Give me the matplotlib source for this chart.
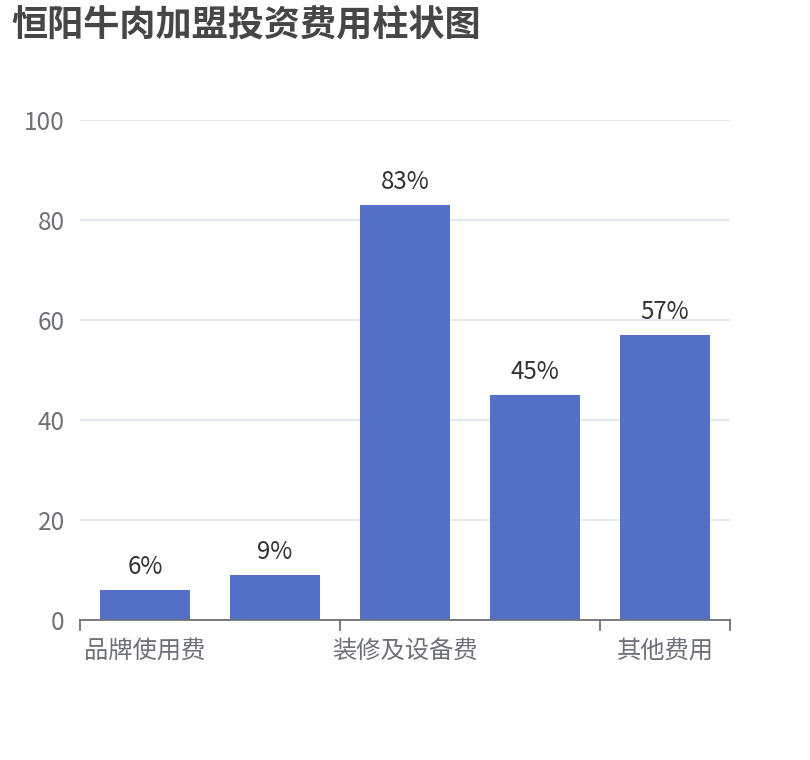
import matplotlib
matplotlib.use("Agg")
import matplotlib.pyplot as plt

plt.rcParams['font.family'] = ['Noto Sans CJK SC', 'DejaVu Sans']

categories = ["品牌使用费", "加盟费", "装修及设备费", "保证金", "其他费用"]
values = [6, 9, 83, 45, 57]
value_labels = ["6%", "9%", "83%", "45%", "57%"]
yticks = [0, 20, 40, 60, 80, 100]
title = "恒阳牛肉加盟投资费用柱状图"

W, H = 810, 760
fig = plt.figure(figsize=(W / 100, H / 100), dpi=100)
ax = fig.add_axes([80 / W, 140 / H, 650 / W, 500 / H])

x = list(range(len(categories)))
ax.bar(x, values, width=0.685, color="#5470c6", zorder=3)
for xi, v, lab in zip(x, values, value_labels):
    ax.annotate(lab, (xi, v), xytext=(0, 7), textcoords="offset points",
                ha="center", va="bottom", fontsize=17.3, color="#333333", zorder=4)

ax.set_xlim(-0.5, len(categories) - 0.5)
ax.set_ylim(0, 100)
ax.set_yticks(yticks)
ax.set_yticklabels([str(t) for t in yticks])
ax.yaxis.grid(True, color="#E0E6F1", linewidth=1.3, zorder=0)
ax.tick_params(axis="y", length=0, pad=11, labelsize=17.5, labelcolor="#6E7079")

# category axis: show every other label, ticks at boundaries of shown labels
ax.set_xticks(x)
ax.set_xticklabels([c if i % 2 == 0 else "" for i, c in enumerate(categories)])
ax.tick_params(axis="x", length=0, pad=12.5, labelsize=17.5, labelcolor="#6E7079")
bounds = [-0.5, 1.5, 3.5, 4.5]
for b in bounds:
    ax.plot([b, b], [0, -2], color="#6E7079", linewidth=1.3, clip_on=False, zorder=5)

for s in ["top", "right", "left"]:
    ax.spines[s].set_visible(False)
ax.spines["bottom"].set_color("#6E7079")
ax.spines["bottom"].set_linewidth(1.3)
ax.spines["bottom"].set_zorder(5)

fig.text(11 / W, 1 - 26 / H, title, fontsize=26, fontweight="bold",
         color="#464646", ha="left", va="center")

fig.savefig("out.png", dpi=100)
